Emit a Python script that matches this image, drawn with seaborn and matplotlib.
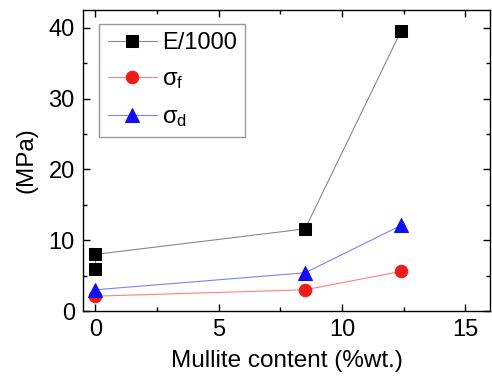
import pandas as pd
import matplotlib
matplotlib.use('Agg')
import matplotlib.pyplot as plt
import seaborn as sns
from matplotlib.ticker import MultipleLocator

# data
mullite_E = [0, 0, 8.5, 12.4]
E_1000 = [5.9, 8.0, 11.6, 39.6]
mullite_s = [0, 8.5, 12.4]
sigma_f = [2.1, 3.0, 5.6]
sigma_d = [3.0, 5.4, 12.1]

sns.set_style('ticks')
plt.rcParams['font.family'] = ['Liberation Sans', 'DejaVu Sans']
plt.rcParams['mathtext.fontset'] = 'custom'
plt.rcParams['mathtext.rm'] = 'Liberation Sans'
plt.rcParams['mathtext.it'] = 'Liberation Sans'
plt.rcParams['text.color'] = 'black'
plt.rcParams['axes.labelcolor'] = 'black'
plt.rcParams['xtick.color'] = 'black'
plt.rcParams['ytick.color'] = 'black'

fig = plt.figure(figsize=(4.92, 3.84), dpi=100)
ax = fig.add_axes([0.169, 0.19, 0.827, 0.784])

dfE = pd.DataFrame({'x': mullite_E, 'y': E_1000})
dff = pd.DataFrame({'x': mullite_s, 'y': sigma_f})
dfd = pd.DataFrame({'x': mullite_s, 'y': sigma_d})

sns.lineplot(data=dfE, x='x', y='y', ax=ax, estimator=None, sort=False,
             color='#888888', lw=0.8, marker='s', markersize=8,
             markerfacecolor='black', markeredgecolor='black', label='E/1000')
sns.lineplot(data=dff, x='x', y='y', ax=ax, estimator=None, sort=False,
             color='#ff8080', lw=0.8, marker='o', markersize=9,
             markerfacecolor='#f01c1c', markeredgecolor='#f01c1c', label=r'$\sigma_{\mathrm{f}}$')
sns.lineplot(data=dfd, x='x', y='y', ax=ax, estimator=None, sort=False,
             color='#8080ff', lw=0.8, marker='^', markersize=10,
             markerfacecolor='#1010f0', markeredgecolor='#1010f0', label=r'$\sigma_{\mathrm{d}}$')

ax.set_xlim(-0.5, 16)
ax.set_ylim(0, 42.5)
ax.xaxis.set_major_locator(MultipleLocator(5))
ax.xaxis.set_minor_locator(MultipleLocator(2.5))
ax.yaxis.set_major_locator(MultipleLocator(10))
ax.yaxis.set_minor_locator(MultipleLocator(5))
ax.tick_params(which='both', direction='in', top=True, right=True, labelsize=17, width=1)
ax.tick_params(which='major', length=5, pad=6)
ax.tick_params(which='minor', length=3)
for s in ax.spines.values():
    s.set_linewidth(1)
    s.set_color('black')

ax.set_xlabel('Mullite content (%wt.)', fontsize=17.5, labelpad=6)
ax.set_ylabel('(MPa)', fontsize=17.5, labelpad=8)

leg = ax.legend(loc='upper left', fontsize=17, fancybox=False, edgecolor='#999999',
                framealpha=1, handlelength=2.1, handletextpad=0.2, borderpad=0.35,
                labelspacing=0.62, borderaxespad=0, bbox_to_anchor=(0.04, 0.955))
leg.get_frame().set_linewidth(1)

fig.savefig('out.png', dpi=100)
